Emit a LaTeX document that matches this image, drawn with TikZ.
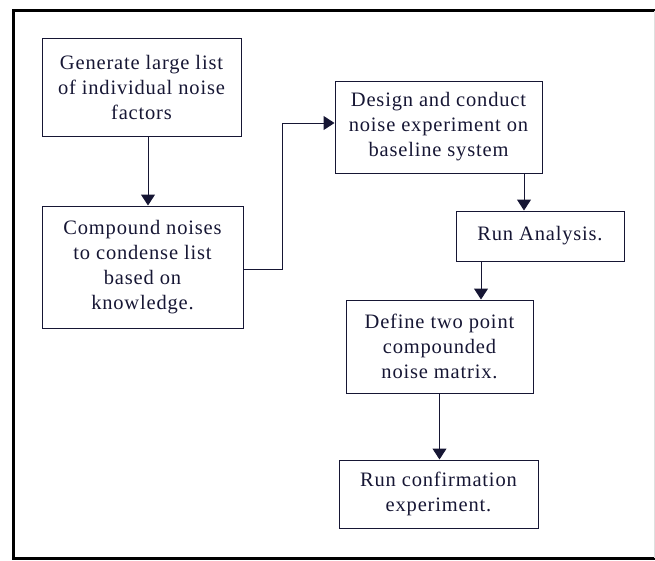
\documentclass[tikz,border=0pt]{standalone}
\usepackage{fontspec}
\setmainfont{Liberation Serif}[LetterSpace=4]
\usepackage{tikz}
\usetikzlibrary{arrows.meta}

\definecolor{inkblue}{RGB}{22,22,52}

\tikzset{
  stepbox/.style={draw=inkblue, line width=1pt, text=inkblue, align=center,
    inner sep=0pt, font=\fontsize{20.5}{25}\selectfont},
  flow/.style={draw=inkblue, line width=1pt, -{Triangle[width=14pt,length=11pt]}}
}

\begin{document}
\begin{tikzpicture}[x=1pt,y=-1pt]

\useasboundingbox (0,0) rectangle (655,560);

% frame
\draw[line width=3pt, line cap=rect] (654,10.5) -- (13,10.5) -- (13,558) -- (654,558);
\draw[gray!25, line width=1pt] (654,10.5) -- (654,558);

\node[stepbox, minimum width=199pt, minimum height=98pt] (gen) at (141.5,87)
  {Generate large list\\of individual noise\\factors};
\node[stepbox, minimum width=201pt, minimum height=122pt] (comp) at (142.5,267)
  {Compound noises\\to condense list\\based on\\knowledge.};
\node[stepbox, minimum width=207pt, minimum height=92pt] (design) at (438.5,127)
  {Design and conduct\\noise experiment on\\baseline system};
\node[stepbox, minimum width=168pt, minimum height=50pt] (anal) at (540,236)
  {Run Analysis.};
\node[stepbox, minimum width=187pt, minimum height=93pt] (matrix) at (439.5,346.5)
  {Define two point\\compounded\\noise matrix.};
\node[stepbox, minimum width=199pt, minimum height=68pt] (confirm) at (438.5,494)
  {Run confirmation\\experiment.};

\draw[flow] ([xshift=6.5pt]gen.south) -- ([xshift=6.5pt]gen.south |- comp.north);
\draw[flow] ([yshift=-2pt]comp.east) -| (282,123) -- (282,123 -| design.west);
\draw[flow] ([xshift=85.5pt]design.south) -- ([xshift=85.5pt]design.south |- anal.north);
\draw[flow] ([xshift=-59pt]anal.south) -- ([xshift=-59pt]anal.south |- matrix.north);
\draw[flow] (matrix.south) -- (matrix.south |- confirm.north);

\end{tikzpicture}
\end{document}
